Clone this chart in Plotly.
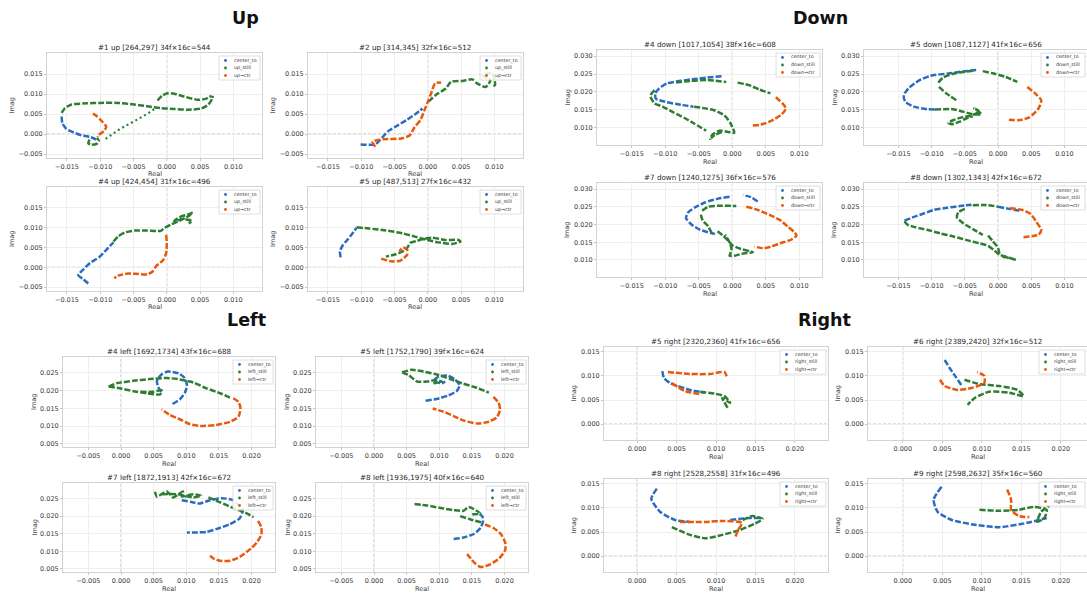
import plotly.graph_objects as go

W, H = 1087, 594
BLUE, GREEN, ORANGE = "#2b6cbf", "#2e7d32", "#e8590c"
FONT = "DejaVu Sans"

# ---------------- tick values ----------------
up_xticks = [-0.015, -0.010, -0.005, 0.0, 0.005, 0.010]
up_yticks = [-0.005, 0.0, 0.005, 0.010, 0.015]
down_xticks = [-0.015, -0.010, -0.005, 0.0, 0.005, 0.010]
down_yticks = [0.010, 0.015, 0.020, 0.025, 0.030]
left_xticks = [-0.005, 0.0, 0.005, 0.010, 0.015, 0.020]
left_yticks = [0.005, 0.010, 0.015, 0.020, 0.025]
right_xticks = [0.0, 0.005, 0.010, 0.015, 0.020]
right_yticks = [0.0, 0.005, 0.010, 0.015]

# ---------------- data: (real, imag) points, None = gap ----------------
up1_center = [(-0.0158,0.0044),(-0.0157,0.0028),(-0.0151,0.0013),(-0.0140,0.0004),(-0.0128,-0.0003),(-0.0116,-0.0007),(-0.0108,-0.0012),(-0.0104,-0.0017)]
up1_still = [(-0.0116,-0.0014),(-0.0118,-0.0023),(-0.0113,-0.0027),(-0.0105,-0.0024),(-0.0102,-0.0017),(-0.0105,-0.0010), None,
             (-0.0158,0.0053),(-0.0153,0.0065),(-0.0143,0.0074),(-0.0120,0.0077),(-0.0100,0.0078),(-0.0075,0.0078),(-0.0049,0.0074),(-0.0027,0.0069),(-0.0009,0.0065),(0.0011,0.0063),(0.0031,0.0061),(0.0052,0.0064),(0.0062,0.0073),(0.0068,0.0088),(0.0069,0.0096), None,
             (-0.0014,0.0084),(-0.0007,0.0096),(0.0001,0.0102),(0.0011,0.0101),(0.0026,0.0094),(0.0046,0.0086),(0.0058,0.0088),(0.0067,0.0096)]
up1_still_sparse = [(-0.0092,-0.0012),(-0.0070,0.0013),(-0.0049,0.0032),(-0.0029,0.0051),(-0.0015,0.0067)]
up1_ctr = [(-0.0111,0.0051),(-0.0106,0.0046),(-0.0098,0.0033),(-0.0091,0.0018),(-0.0095,0.0007),(-0.0102,-0.0002),(-0.0104,-0.0008)]

up2_center = [(-0.0101,-0.0026),(-0.0079,-0.0026),(-0.0072,-0.0015),(-0.0059,0.0008),(-0.0050,0.0017),(-0.0032,0.0035),(-0.0017,0.0052),(-0.0008,0.0064)]
up2_still = [(0.0001,0.0081),(0.0012,0.0098),(0.0027,0.0114),(0.0035,0.0131),(0.0052,0.0133),(0.0067,0.0137),(0.0074,0.0127),(0.0087,0.0118),(0.0094,0.0135),(0.0082,0.0148),(0.0097,0.0152),(0.0101,0.0123),(0.0097,0.0118)]
up2_ctr = [(-0.0079,-0.0032),(-0.0083,-0.0019),(-0.0067,-0.0013),(-0.0040,-0.0011),(-0.0027,-0.0003),(-0.0020,0.0017),(-0.0011,0.0035),(-0.0005,0.0060),(0.0001,0.0085),(0.0005,0.0102),(0.0011,0.0127),(0.0020,0.0129)]

up4_center = [(-0.0118,-0.0041),(-0.0125,-0.0031),(-0.0133,-0.0020),(-0.0127,-0.0008),(-0.0115,0.0011),(-0.0102,0.0025),(-0.0093,0.0040),(-0.0085,0.0055),(-0.0080,0.0063)]
up4_still = [(-0.0080,0.0065),(-0.0073,0.0078),(-0.0063,0.0088),(-0.0048,0.0093),(-0.0029,0.0093),(-0.0009,0.0092),(-0.0003,0.0100),(0.0006,0.0108),(0.0021,0.0119),(0.0033,0.0130),(0.0039,0.0138),(0.0031,0.0133),(0.0021,0.0128),(0.0011,0.0117),(0.0026,0.0122),(0.0038,0.0117),(0.0033,0.0111)]
up4_ctr = [(-0.0001,0.0082),(0.0000,0.0061),(-0.0001,0.0036),(-0.0006,0.0017),(-0.0016,0.0003),(-0.0021,-0.0010),(-0.0029,-0.0018),(-0.0043,-0.0017),(-0.0058,-0.0016),(-0.0073,-0.0021),(-0.0079,-0.0028)]

up5_center = [(-0.0131,0.0025),(-0.0132,0.0040),(-0.0128,0.0055),(-0.0121,0.0069),(-0.0113,0.0086),(-0.0107,0.0100)]
up5_still = [(-0.0107,0.0101),(-0.0088,0.0098),(-0.0063,0.0093),(-0.0038,0.0086),(-0.0018,0.0077),(-0.0001,0.0069),(0.0016,0.0063),(0.0036,0.0059),(0.0049,0.0065),(0.0046,0.0069),(0.0026,0.0069),(0.0006,0.0075),(-0.0003,0.0073),(-0.0016,0.0067),(-0.0026,0.0062),(-0.0033,0.0044),(-0.0048,0.0033),(-0.0063,0.0027)]
up5_ctr = [(-0.0070,0.0022),(-0.0055,0.0015),(-0.0041,0.0017),(-0.0031,0.0032),(-0.0031,0.0044),(-0.0037,0.0050),(-0.0043,0.0040)]

down4_center = [(-0.0016,0.0244),(-0.0037,0.0240),(-0.0057,0.0236),(-0.0077,0.0231),(-0.0097,0.0224),(-0.0109,0.0210),(-0.0115,0.0196),(-0.0114,0.0181),(-0.0101,0.0173),(-0.0077,0.0164),(-0.0058,0.0159)]
down4_still = [(-0.0084,0.0226),(-0.0062,0.0231),(-0.0037,0.0233),(-0.0009,0.0228), None,
               (0.0008,0.0226),(0.0025,0.0219),(0.0040,0.0207),(0.0057,0.0196), None,
               (-0.0116,0.0205),(-0.0122,0.0191),(-0.0121,0.0182),(-0.0116,0.0168),(-0.0104,0.0159),(-0.0087,0.0142),(-0.0072,0.0128),(-0.0057,0.0112),(-0.0039,0.0092), None,
               (-0.0057,0.0159),(-0.0027,0.0149),(-0.0012,0.0135),(-0.0003,0.0114),(0.0003,0.0086),(-0.0007,0.0089),(-0.0019,0.0092),(-0.0029,0.0082),(-0.0033,0.0069),(-0.0026,0.0080),(-0.0014,0.0089)]
down4_ctr = [(0.0065,0.0185),(0.0075,0.0168),(0.0080,0.0154),(0.0074,0.0138),(0.0058,0.0119),(0.0043,0.0109),(0.0029,0.0106)]

down5_center = [(-0.0033,0.0261),(-0.0053,0.0257),(-0.0073,0.0252),(-0.0102,0.0245),(-0.0120,0.0231),(-0.0135,0.0210),(-0.0142,0.0191),(-0.0140,0.0173),(-0.0127,0.0159),(-0.0107,0.0152),(-0.0095,0.0151)]
down5_still = [(-0.0090,0.0226),(-0.0083,0.0240),(-0.0063,0.0253),(-0.0038,0.0259), None,
               (-0.0023,0.0258),(-0.0008,0.0252),(0.0011,0.0242),(0.0029,0.0228), None,
               (-0.0089,0.0214),(-0.0078,0.0196),(-0.0063,0.0177), None,
               (-0.0095,0.0151),(-0.0068,0.0152),(-0.0053,0.0145),(-0.0038,0.0138),(-0.0025,0.0138),(-0.0036,0.0154),(-0.0028,0.0145),(-0.0043,0.0133),(-0.0055,0.0129),(-0.0068,0.0121),(-0.0075,0.0114),(-0.0070,0.0110),(-0.0058,0.0117),(-0.0048,0.0126),(-0.0038,0.0132)]
down5_ctr = [(0.0044,0.0214),(0.0056,0.0196),(0.0065,0.0177),(0.0061,0.0154),(0.0047,0.0129),(0.0031,0.0121),(0.0015,0.0123)]

down7_center = [(0.0038,0.0265),(0.0028,0.0277),(0.0016,0.0283), None,
                (-0.0004,0.0278),(-0.0021,0.0273),(-0.0041,0.0262),(-0.0056,0.0248),(-0.0066,0.0234),(-0.0069,0.0218),(-0.0061,0.0200),(-0.0049,0.0186),(-0.0026,0.0173)]
down7_still = [(-0.0045,0.0239),(-0.0036,0.0250),(-0.0016,0.0253),(0.0006,0.0252), None,
               (-0.0047,0.0228),(-0.0044,0.0211),(-0.0036,0.0195),(-0.0030,0.0173), None,
               (-0.0022,0.0181),(-0.0014,0.0169),(-0.0006,0.0154),(0.0001,0.0140),(0.0013,0.0131),(0.0031,0.0122),(0.0018,0.0119),(0.0003,0.0112),(-0.0004,0.0112),(-0.0001,0.0128),(-0.0004,0.0150),(-0.0011,0.0171)]
down7_ctr = [(0.0021,0.0250),(0.0038,0.0241),(0.0058,0.0225),(0.0071,0.0213),(0.0083,0.0194),(0.0093,0.0178),(0.0096,0.0169),(0.0088,0.0157),(0.0073,0.0148),(0.0058,0.0138),(0.0046,0.0133),(0.0033,0.0138)]

down8_center = [(-0.0141,0.0211),(-0.0129,0.0220),(-0.0112,0.0231),(-0.0097,0.0241),(-0.0077,0.0247),(-0.0057,0.0252),(-0.0040,0.0256), None,
                (0.0000,0.0250),(0.0017,0.0244),(0.0032,0.0239)]
down8_still = [(-0.0038,0.0254),(-0.0018,0.0255),(0.0000,0.0250), None,
               (-0.0050,0.0244),(-0.0060,0.0234),(-0.0062,0.0220),(-0.0052,0.0203),(-0.0038,0.0187),(-0.0023,0.0171), None,
               (-0.0141,0.0209),(-0.0137,0.0200),(-0.0124,0.0192),(-0.0107,0.0185),(-0.0087,0.0175),(-0.0067,0.0166),(-0.0047,0.0156),(-0.0028,0.0147),(-0.0015,0.0140),(-0.0005,0.0126),(0.0002,0.0115),(0.0012,0.0109),(0.0027,0.0100),(0.0017,0.0106),(0.0004,0.0110), None,
               (-0.0015,0.0169),(-0.0008,0.0153),(0.0000,0.0134),(0.0002,0.0117)]
down8_ctr = [(0.0018,0.0246),(0.0037,0.0241),(0.0049,0.0230),(0.0057,0.0209),(0.0065,0.0185),(0.0061,0.0171),(0.0051,0.0167),(0.0037,0.0164)]

left4_center = [(0.0079,0.0162),(0.0090,0.0175),(0.0098,0.0194),(0.0101,0.0215),(0.0097,0.0236),(0.0088,0.0248),(0.0072,0.0253),(0.0062,0.0245),(0.0055,0.0227),(0.0057,0.0209),(0.0062,0.0196)]
left4_still = [(-0.0019,0.0211),(-0.0007,0.0220),(0.0019,0.0227),(0.0044,0.0232),(0.0070,0.0235),(0.0090,0.0231),(0.0111,0.0222),(0.0131,0.0206),(0.0152,0.0192),(0.0167,0.0180), None,
               (-0.0019,0.0211),(-0.0002,0.0206),(0.0019,0.0198),(0.0039,0.0192),(0.0060,0.0189),(0.0062,0.0201),(0.0049,0.0196),(0.0029,0.0196)]
left4_ctr = [(0.0172,0.0178),(0.0180,0.0168),(0.0183,0.0150),(0.0180,0.0126),(0.0167,0.0112),(0.0146,0.0103),(0.0121,0.0100),(0.0106,0.0105),(0.0090,0.0119),(0.0075,0.0131),(0.0062,0.0147)]

left5_center = [(0.0079,0.0171),(0.0096,0.0176),(0.0114,0.0186),(0.0127,0.0199),(0.0131,0.0215),(0.0124,0.0231),(0.0112,0.0242),(0.0099,0.0239),(0.0091,0.0227),(0.0104,0.0220),(0.0109,0.0225)]
left5_still = [(0.0043,0.0251),(0.0058,0.0258),(0.0076,0.0253),(0.0096,0.0245),(0.0117,0.0232),(0.0135,0.0220),(0.0155,0.0209),(0.0176,0.0194), None,
               (0.0043,0.0251),(0.0053,0.0243),(0.0066,0.0225),(0.0081,0.0225),(0.0094,0.0229),(0.0104,0.0225),(0.0091,0.0220)]
left5_ctr = [(0.0183,0.0182),(0.0191,0.0165),(0.0193,0.0145),(0.0188,0.0124),(0.0176,0.0112),(0.0158,0.0107),(0.0138,0.0115),(0.0122,0.0128),(0.0107,0.0140),(0.0090,0.0149)]

left7_center = [(0.0093,0.0245),(0.0108,0.0240),(0.0121,0.0236),(0.0136,0.0245),(0.0154,0.0251),(0.0172,0.0245),(0.0186,0.0217),(0.0182,0.0194),(0.0167,0.0177),(0.0146,0.0163),(0.0131,0.0155),(0.0101,0.0153)]
left7_still = [(0.0052,0.0269),(0.0055,0.0255),(0.0070,0.0270),(0.0080,0.0253),(0.0095,0.0270),(0.0093,0.0256),(0.0111,0.0262),(0.0123,0.0258),(0.0111,0.0253),(0.0087,0.0262),(0.0060,0.0262), None,
               (0.0134,0.0253),(0.0152,0.0239),(0.0172,0.0223),(0.0190,0.0210),(0.0203,0.0197)]
left7_ctr = [(0.0210,0.0186),(0.0215,0.0168),(0.0215,0.0147),(0.0208,0.0125),(0.0198,0.0106),(0.0182,0.0084),(0.0167,0.0073),(0.0152,0.0073),(0.0141,0.0080),(0.0134,0.0092)]

left8_center = [(0.0122,0.0135),(0.0137,0.0139),(0.0153,0.0149),(0.0163,0.0166),(0.0167,0.0184),(0.0166,0.0199),(0.0159,0.0209)]
left8_still = [(0.0062,0.0234),(0.0081,0.0230),(0.0102,0.0223),(0.0122,0.0217),(0.0137,0.0215),(0.0145,0.0226),(0.0153,0.0220),(0.0163,0.0207),(0.0147,0.0205), None,
               (0.0132,0.0200),(0.0147,0.0191),(0.0165,0.0182)]
left8_ctr = [(0.0170,0.0176),(0.0183,0.0166),(0.0194,0.0150),(0.0201,0.0125),(0.0201,0.0103),(0.0192,0.0080),(0.0178,0.0063),(0.0164,0.0055),(0.0155,0.0065),(0.0148,0.0080),(0.0142,0.0093)]

right5_center = [(0.0032,0.0110),(0.0034,0.0096),(0.0042,0.0085),(0.0067,0.0071),(0.0086,0.0065)]
right5_still = [(0.0080,0.0067),(0.0099,0.0063),(0.0111,0.0058),(0.0118,0.0044),(0.0108,0.0054),(0.0115,0.0033)]
right5_ctr = [(0.0039,0.0108),(0.0067,0.0104),(0.0092,0.0104),(0.0111,0.0108),(0.0114,0.0096), None,
              (0.0044,0.0085),(0.0060,0.0069),(0.0080,0.0062)]

right6_center = [(0.0053,0.0133),(0.0059,0.0117),(0.0067,0.0098),(0.0074,0.0081)]
right6_still = [(0.0078,0.0092),(0.0097,0.0083),(0.0122,0.0079),(0.0145,0.0071),(0.0153,0.0058),(0.0135,0.0065),(0.0109,0.0067),(0.0091,0.0054),(0.0082,0.0040)]
right6_ctr = [(0.0047,0.0092),(0.0053,0.0079),(0.0069,0.0071),(0.0087,0.0075),(0.0103,0.0085),(0.0103,0.0100),(0.0094,0.0108)]

right8_center = [(0.0025,0.0140),(0.0018,0.0119),(0.0029,0.0092),(0.0048,0.0075),(0.0067,0.0071), None,
                 (0.0118,0.0075),(0.0141,0.0079),(0.0158,0.0079)]
right8_still = [(0.0044,0.0060),(0.0067,0.0044),(0.0086,0.0037),(0.0108,0.0044),(0.0130,0.0054),(0.0149,0.0067),(0.0159,0.0077),(0.0146,0.0083),(0.0130,0.0071)]
right8_ctr = [(0.0054,0.0071),(0.0086,0.0071),(0.0111,0.0073),(0.0133,0.0069),(0.0128,0.0054),(0.0124,0.0037)]

right9_center = [(0.0049,0.0144),(0.0039,0.0117),(0.0044,0.0092),(0.0062,0.0075),(0.0091,0.0065),(0.0122,0.0060),(0.0157,0.0069),(0.0182,0.0079)]
right9_still = [(0.0097,0.0096),(0.0122,0.0094),(0.0147,0.0096),(0.0166,0.0102),(0.0182,0.0096),(0.0179,0.0079),(0.0170,0.0071),(0.0175,0.0092),(0.0185,0.0104)]
right9_ctr = [(0.0132,0.0138),(0.0137,0.0117),(0.0137,0.0096),(0.0147,0.0083),(0.0160,0.0081)]

# ---------------- layout configuration ----------------
GROUPS = {
    "up":    dict(xr=[-0.018, 0.0143], yr=[-0.006, 0.0203], xt=up_xticks, yt=up_yticks, h0=True,
                  names=("center_to", "up_still", "up\u2192ctr"), legw=41, ylab=35, xlab=16),
    "down":  dict(xr=[-0.0202, 0.0134], yr=[0.0052, 0.0317], xt=down_xticks, yt=down_yticks, h0=False,
                  names=("center_to", "down_still", "down\u2192ctr"), legw=44, ylab=30, xlab=17),
    "left":  dict(xr=[-0.0089, 0.0236], yr=[0.0041, 0.0294], xt=left_xticks, yt=left_yticks, h0=False,
                  names=("center_to", "left_still", "left\u2192ctr"), legw=40, ylab=29, xlab=16.5),
    "right": dict(xr=[-0.0042, 0.0242], yr=[-0.0033, 0.016], xt=right_xticks, yt=right_yticks, h0=True,
                  names=("center_to", "right_still", "right\u2192ctr"), legw=46, ylab=31, xlab=16.5),
}

panels = [
    dict(t="#1 up [264,297] 34f\u00d716c=544", g="up", s=(up1_center, up1_still, up1_ctr), sparse=up1_still_sparse, box=(47, 53, 262, 158)),
    dict(t="#2 up [314,345] 32f\u00d716c=512", g="up", s=(up2_center, up2_still, up2_ctr), box=(308, 53, 523, 158)),
    dict(t="#4 up [424,454] 31f\u00d716c=496", g="up", s=(up4_center, up4_still, up4_ctr), box=(47, 187, 262, 291)),
    dict(t="#5 up [487,513] 27f\u00d716c=432", g="up", s=(up5_center, up5_still, up5_ctr), box=(308, 187, 523, 291)),
    dict(t="#4 down [1017,1054] 38f\u00d716c=608", g="down", s=(down4_center, down4_still, down4_ctr), box=(597, 50, 822, 145)),
    dict(t="#5 down [1087,1127] 41f\u00d716c=656", g="down", s=(down5_center, down5_still, down5_ctr), box=(864, 50, 1087, 145)),
    dict(t="#7 down [1240,1275] 36f\u00d716c=576", g="down", s=(down7_center, down7_still, down7_ctr), box=(597, 183, 822, 277)),
    dict(t="#8 down [1302,1343] 42f\u00d716c=672", g="down", s=(down8_center, down8_still, down8_ctr), box=(864, 183, 1087, 277)),
    dict(t="#4 left [1692,1734] 43f\u00d716c=688", g="left", s=(left4_center, left4_still, left4_ctr), box=(63, 357, 275, 447)),
    dict(t="#5 left [1752,1790] 39f\u00d716c=624", g="left", s=(left5_center, left5_still, left5_ctr), box=(316, 357, 528, 447)),
    dict(t="#7 left [1872,1913] 42f\u00d716c=672", g="left", s=(left7_center, left7_still, left7_ctr), box=(63, 483, 275, 572)),
    dict(t="#8 left [1936,1975] 40f\u00d716c=640", g="left", s=(left8_center, left8_still, left8_ctr), box=(316, 483, 528, 572)),
    dict(t="#5 right [2320,2360] 41f\u00d716c=656", g="right", s=(right5_center, right5_still, right5_ctr), box=(604, 347, 828, 440)),
    dict(t="#6 right [2389,2420] 32f\u00d716c=512", g="right", s=(right6_center, right6_still, right6_ctr), box=(868, 347, 1087, 440), xr=[-0.0044, 0.0233]),
    dict(t="#8 right [2528,2558] 31f\u00d716c=496", g="right", s=(right8_center, right8_still, right8_ctr), box=(604, 479, 828, 572)),
    dict(t="#9 right [2598,2632] 35f\u00d716c=560", g="right", s=(right9_center, right9_still, right9_ctr), box=(868, 479, 1087, 572), xr=[-0.0044, 0.0233]),
]

group_titles = [("Up", 245, 18), ("Down", 820, 18), ("Left", 246, 320), ("Right", 824, 320)]

COLORS = (BLUE, GREEN, ORANGE)
LABEL_FONT = dict(size=6.5, color="#3a3a3a", family=FONT)


def fmt(v):
    return f"{v:.3f}".replace("-", "\u2212")


def split(pts):
    return ([p[0] if p is not None else None for p in pts],
            [p[1] if p is not None else None for p in pts])


AX = dict(showline=True, linecolor="#d2d2d2", linewidth=1, mirror=True,
          showgrid=True, gridcolor="#eeeeee", gridwidth=0.8, zeroline=False,
          ticks="outside", ticklen=2, tickwidth=0.8, tickcolor="#c4c4c4",
          tickfont=dict(size=6.5, color="#3a3a3a", family=FONT), fixedrange=True)

fig = go.Figure()
lay = {}
shapes = []
annos = []

for i, p in enumerate(panels, start=1):
    sfx = "" if i == 1 else str(i)
    xa, ya = "x" + sfx, "y" + sfx
    g = GROUPS[p["g"]]
    x0, y0, x1, y1 = p["box"]
    xr = p.get("xr", g["xr"])
    lay["xaxis" + sfx] = dict(AX, domain=[x0 / W, x1 / W], range=xr, anchor=ya,
                              tickvals=g["xt"], ticktext=[fmt(v) for v in g["xt"]])
    lay["yaxis" + sfx] = dict(AX, domain=[1 - y1 / H, 1 - y0 / H], range=g["yr"], anchor=xa,
                              tickvals=g["yt"], ticktext=[fmt(v) for v in g["yt"]])
    # axis titles
    annos.append(dict(text="Real", x=(x0 + x1) / 2 / W, y=1 - (y1 + g["xlab"]) / H, xref="paper", yref="paper",
                      xanchor="center", yanchor="middle", showarrow=False, borderpad=0, font=LABEL_FONT))
    annos.append(dict(text="Imag", x=(x0 - g["ylab"]) / W, y=1 - (y0 + y1) / 2 / H, xref="paper", yref="paper",
                      xanchor="center", yanchor="middle", textangle=-90, showarrow=False, borderpad=0, font=LABEL_FONT))
    # zero reference lines
    shapes.append(dict(type="line", xref=xa, yref=ya + " domain", x0=0, x1=0, y0=0, y1=1,
                       line=dict(color="#a0a0a0", width=0.8, dash="3px,2px"), layer="below"))
    if g["h0"]:
        shapes.append(dict(type="line", xref=xa + " domain", yref=ya, x0=0, x1=1, y0=0, y1=0,
                           line=dict(color="#a0a0a0", width=0.8, dash="3px,2px"), layer="below"))
    # series
    for pts, col, nm in zip(p["s"], COLORS, g["names"]):
        xs, ys = split(pts)
        fig.add_trace(go.Scatter(x=xs, y=ys, mode="lines", name=nm, showlegend=False, connectgaps=False,
                                 line=dict(color=col, width=2.5, dash="6px,2px", shape="spline", smoothing=0.6),
                                 xaxis=xa, yaxis=ya, hoverinfo="skip"))
        if nm.endswith("_still") and "sparse" in p:
            sx, sy = split(p["sparse"])
            fig.add_trace(go.Scatter(x=sx, y=sy, mode="lines", name=nm, showlegend=False,
                                     line=dict(color=col, width=2.2, dash="2px,3px"),
                                     xaxis=xa, yaxis=ya, hoverinfo="skip"))
    # subplot title
    annos.append(dict(text=p["t"], x=(x0 + x1) / 2 / W, y=1 - y0 / H, xref="paper", yref="paper",
                      xanchor="center", yanchor="bottom", showarrow=False, yshift=0, borderpad=0,
                      font=dict(size=7.2, color="#262626", family=FONT)))
    # legend box
    lx1 = x1 - 2
    lx0 = lx1 - g["legw"]
    ly0 = y0 + 3
    ly1 = ly0 + 24
    shapes.append(dict(type="rect", xref="paper", yref="paper", x0=lx0 / W, x1=lx1 / W,
                       y0=1 - ly1 / H, y1=1 - ly0 / H, line=dict(color="#d6d6d6", width=0.8),
                       fillcolor="rgba(255,255,255,0.85)", layer="above"))
    for k, (nm, col) in enumerate(zip(g["names"], COLORS)):
        cy = ly0 + 4.5 + 7.5 * k
        cx = lx0 + 6.5
        shapes.append(dict(type="circle", xref="paper", yref="paper",
                           x0=(cx - 1.4) / W, x1=(cx + 1.4) / W, y0=1 - (cy + 1.4) / H, y1=1 - (cy - 1.4) / H,
                           fillcolor=col, line=dict(width=0), layer="above"))
        annos.append(dict(text=nm, x=(lx0 + 14) / W, y=1 - cy / H, xref="paper", yref="paper",
                          xanchor="left", yanchor="middle", showarrow=False, borderpad=0,
                          font=dict(size=4.8, color="#333333", family=FONT)))

for txt, gx, gy in group_titles:
    annos.append(dict(text="<b>" + txt + "</b>", x=gx / W, y=1 - gy / H, xref="paper", yref="paper",
                      xanchor="center", yanchor="middle", showarrow=False,
                      font=dict(size=17.5, color="#111111", family=FONT)))

fig.update_layout(width=W, height=H, autosize=False, margin=dict(l=0, r=0, t=0, b=0),
                  paper_bgcolor="white", plot_bgcolor="white", showlegend=False,
                  shapes=shapes, annotations=annos, font=dict(family=FONT), **lay)

fig.write_html("out.html")
